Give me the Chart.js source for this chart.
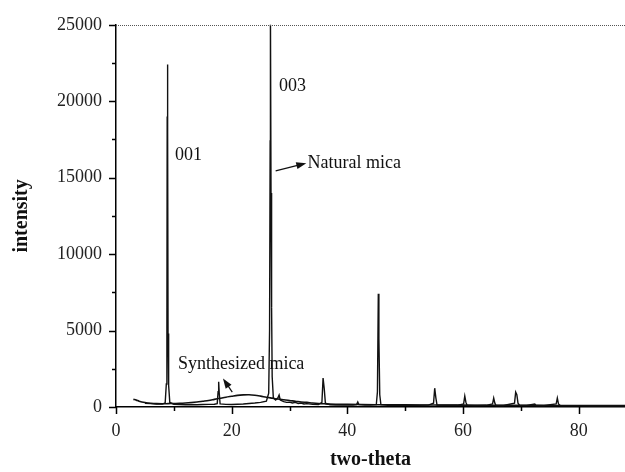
<!DOCTYPE html>
<html>
<head>
<meta charset="utf-8">
<script src="https://cdn.jsdelivr.net/npm/chart.js@4.4.1/dist/chart.umd.min.js"></script>
<style>
  html,body{margin:0;padding:0;background:#fff;}
  #wrap{width:625px;height:472px;position:relative;}
</style>
</head>
<body>
<div id="wrap"><canvas id="c" width="625" height="472"></canvas></div>
<script>
// Natural mica pattern (two-theta, intensity)
const natX = [5,6,7,8,8.5,8.7,8.8,8.85,8.9,8.95,9.0,9.1,9.3,10,11,12,13,14,15,16,17,17.5,17.65,17.75,17.85,18,19,20,21,22,23,24,25,26,26.4,26.55,26.65,26.7,26.8,26.9,27.0,27.2,27.6,28.0,28.2,28.4,29,29.5,30,30.5,31,31.5,32,32.5,33,34,35,35.6,35.8,36.0,36.2,37,38,39,40,41,41.6,41.8,42,43,44,45,45.2,45.35,45.45,45.6,45.8,47,48,49,50,52,54,54.9,55.1,55.3,55.5,57,59,60.1,60.3,60.5,60.7,62,64,65.1,65.3,65.5,65.7,67,68.9,69.1,69.3,69.5,69.8,71,72.4,72.6,74,76.1,76.3,76.5,76.8,78,80,82,84,86,88];
const natY = [250,220,200,190,260,1500,5200,19000,22400,18000,4800,1400,300,180,160,150,160,150,160,170,180,220,1000,1650,900,200,170,160,180,200,230,260,300,380,900,5000,17400,26000,14000,6500,2000,600,450,600,780,450,350,300,320,260,300,230,260,200,220,170,160,300,1900,1200,250,150,130,140,120,130,160,330,150,120,120,150,1000,7400,4500,800,150,110,120,110,120,110,120,250,1230,600,130,110,110,200,720,300,110,100,110,200,580,250,100,100,250,970,800,250,100,100,200,100,100,200,580,200,100,90,90,80,90,80,80];
// Synthesized mica pattern
const synX = [3,3.5,4,5,6,7,8,9,10,11,12,13,14,15,16,17,18,19,20,21,22,23,24,25,26,27,28,29,30,31,32,33,34,35,36,38,40,45,50,55,60,65,70,75,80,85,88];
const synY = [500,450,380,300,250,220,210,220,230,240,260,290,330,380,430,500,570,640,700,760,790,800,770,710,640,580,520,470,420,380,330,300,260,230,210,180,170,150,140,130,120,110,110,100,100,100,100];
// Axis ticks
const xTicks = [0,20,40,60,80];
const yTicks = [0,5000,10000,15000,20000,25000];
const xMinor = [10,30,50,70];
const yMinor = [2500,7500,12500,17500,22500];
// Annotations [x, y, text]
const labels = [[10.2,16470,'001'],[28.2,21000,'003'],[33.1,15950,'Natural mica'],[10.7,2780,'Synthesized mica']];
const arrows = [[27.6,15440,32.9,15950],[20.1,970,18.5,1870]];

const FONT = "'Liberation Serif', 'Times New Roman', serif";

const toPts = (xs, ys) => xs.map((x, i) => ({x, y: ys[i]}));

const deco = {
  id: 'deco',
  afterDatasetsDraw(chart) {
    const ctx = chart.ctx, xs = chart.scales.x, ys = chart.scales.y, a = chart.chartArea;
    ctx.save();
    ctx.strokeStyle = '#000';
    ctx.lineWidth = 1.5;
    // y ticks
    ctx.beginPath();
    yTicks.forEach(v => { const p = Math.round(ys.getPixelForValue(v)) + 0.5; ctx.moveTo(a.left, p); ctx.lineTo(a.left - 7, p); });
    yMinor.forEach(v => { const p = Math.round(ys.getPixelForValue(v)) + 0.5; ctx.moveTo(a.left, p); ctx.lineTo(a.left - 4, p); });
    xTicks.forEach(v => { const p = Math.round(xs.getPixelForValue(v)) + 0.5; ctx.moveTo(p, a.bottom); ctx.lineTo(p, a.bottom + 7); });
    xMinor.forEach(v => { const p = Math.round(xs.getPixelForValue(v)) + 0.5; ctx.moveTo(p, a.bottom); ctx.lineTo(p, a.bottom + 4); });
    ctx.stroke();
    // dotted top line
    ctx.lineWidth = 1;
    ctx.strokeStyle = '#555';
    ctx.setLineDash([1, 1]);
    ctx.beginPath();
    const ty = Math.round(ys.getPixelForValue(25000)) + 0.5;
    ctx.moveTo(a.left, ty); ctx.lineTo(a.right, ty);
    ctx.stroke();
    ctx.setLineDash([]);
    // labels
    ctx.fillStyle = '#111';
    ctx.font = '18px ' + FONT;
    ctx.textBaseline = 'middle';
    ctx.textAlign = 'left';
    labels.forEach(([x, y, t]) => ctx.fillText(t, xs.getPixelForValue(x), ys.getPixelForValue(y)));
    // arrows
    ctx.strokeStyle = '#111';
    ctx.lineWidth = 1.2;
    arrows.forEach(([x0, y0, x1, y1]) => {
      const px0 = xs.getPixelForValue(x0), py0 = ys.getPixelForValue(y0);
      const px1 = xs.getPixelForValue(x1), py1 = ys.getPixelForValue(y1);
      const ang = Math.atan2(py1 - py0, px1 - px0);
      const L = 10, W = 3.5;
      ctx.beginPath(); ctx.moveTo(px0, py0);
      ctx.lineTo(px1 - L * 0.6 * Math.cos(ang), py1 - L * 0.6 * Math.sin(ang)); ctx.stroke();
      ctx.beginPath();
      ctx.moveTo(px1, py1);
      ctx.lineTo(px1 - L * Math.cos(ang) + W * Math.sin(ang), py1 - L * Math.sin(ang) - W * Math.cos(ang));
      ctx.lineTo(px1 - L * Math.cos(ang) - W * Math.sin(ang), py1 - L * Math.sin(ang) + W * Math.cos(ang));
      ctx.closePath(); ctx.fill();
    });
    ctx.restore();
  }
};

new Chart(document.getElementById('c'), {
  type: 'line',
  data: {
    datasets: [
      {label: 'Natural mica', data: toPts(natX, natY), borderColor: '#111', borderWidth: 1.4, pointRadius: 0, tension: 0, fill: false},
      {label: 'Synthesized mica', data: toPts(synX, synY), borderColor: '#111', borderWidth: 1.6, pointRadius: 0, tension: 0.3, fill: false}
    ]
  },
  options: {
    responsive: false,
    animation: false,
    devicePixelRatio: 1,
    layout: {padding: {top: 20, right: 0, left: 0, bottom: 0}},
    plugins: {legend: {display: false}, tooltip: {enabled: false}},
    scales: {
      x: {
        type: 'linear', min: 0, max: 88,
        afterFit(s) { s.height = 65; },
        grid: {display: false, drawTicks: false},
        border: {display: true, color: '#000', width: 1.5},
        ticks: {
          stepSize: 20, includeBounds: false, padding: 13, color: '#222',
          font: {family: FONT, size: 18},
          callback: v => (xTicks.includes(v) ? String(v) : '')
        },
        title: {display: true, text: 'two-theta', color: '#111', font: {family: FONT, size: 20, weight: 'bold'}, padding: {top: 0, bottom: 0}}
      },
      y: {
        type: 'linear', min: 0, max: 25000,
        afterFit(s) { s.width = 116; },
        grid: {display: false, drawTicks: false},
        border: {display: true, color: '#000', width: 1.5},
        ticks: {
          stepSize: 5000, padding: 14, color: '#222',
          font: {family: FONT, size: 18},
          callback: v => (yTicks.includes(v) ? String(v) : '')
        },
        title: {display: true, text: 'intensity', color: '#111', font: {family: FONT, size: 20, weight: 'bold'}, padding: {top: 10, bottom: 0}}
      }
    }
  },
  plugins: [deco]
});
</script>
</body>
</html>
